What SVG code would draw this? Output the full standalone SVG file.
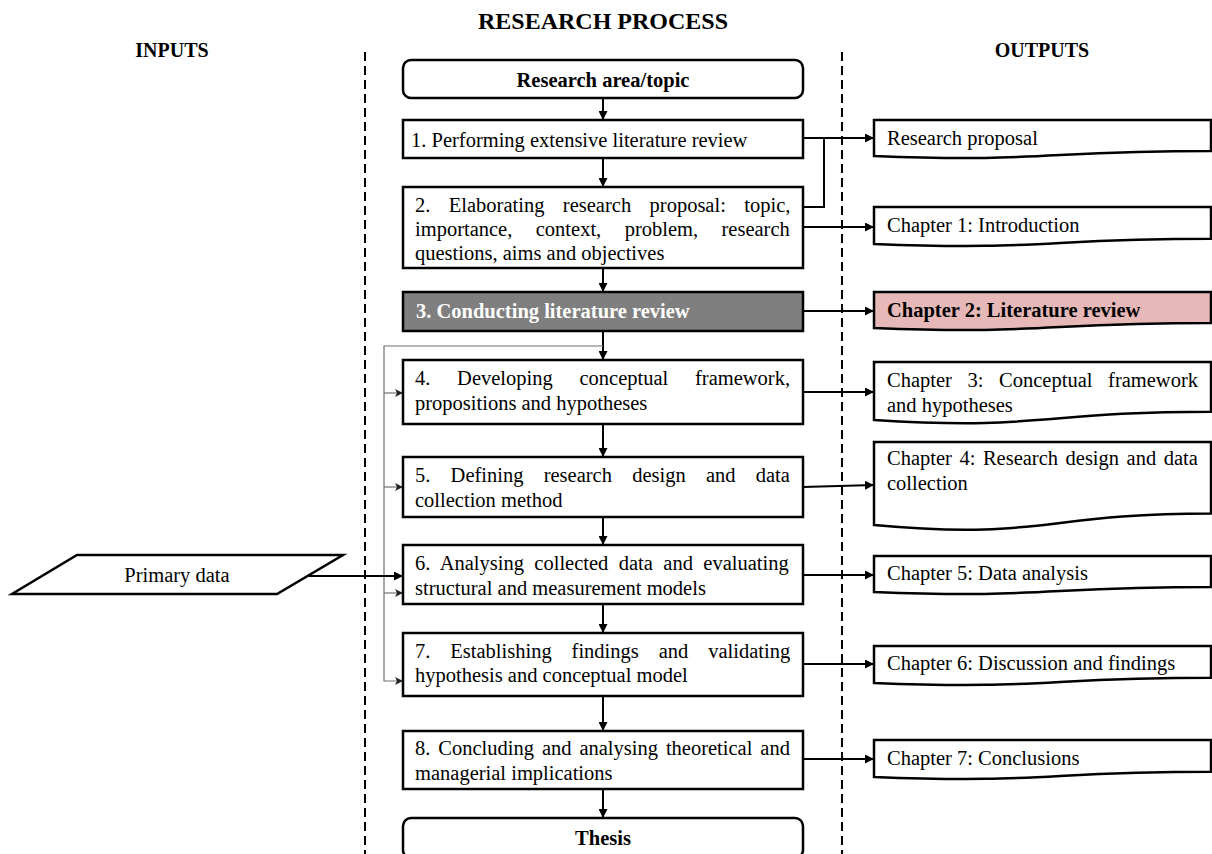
<svg xmlns="http://www.w3.org/2000/svg" width="1212" height="854" viewBox="0 0 1212 854">
  <style>
    text { font-family: "Liberation Serif", "Times New Roman", serif; fill: #000; }
    .hdr { font-size: 20px; font-weight: bold; text-anchor: middle; }
    .title { font-size: 24px; font-weight: bold; text-anchor: middle; }
    .t { font-size: 20.5px; }
    .b { font-size: 20.5px; font-weight: bold; }
    .box { fill: #fff; stroke: #000; stroke-width: 2.5; }
    .dark { fill: #7f7f7f; stroke: #000; stroke-width: 2.5; }
    .doc { fill: #fff; stroke: #000; stroke-width: 2.5; stroke-linejoin: miter; }
    .pink { fill: #e6b9b8; }
    .sep { stroke: #000; stroke-width: 2; stroke-dasharray: 9 5; fill: none; }
    .flow { stroke: #000; stroke-width: 2; fill: none; }
    .loop { stroke: #6f6f6f; stroke-width: 1.2; fill: none; }
  </style>
  <defs>
    <marker id="arrow" markerUnits="userSpaceOnUse" viewBox="0 0 10 10" refX="10" refY="5" markerWidth="9" markerHeight="9" orient="auto">
      <path d="M0,0 L10,5 L0,10 Z" fill="#000"/>
    </marker>
    <marker id="arrowThin" markerUnits="userSpaceOnUse" viewBox="0 0 10 10" refX="10" refY="5" markerWidth="8" markerHeight="8" orient="auto">
      <path d="M0,0 L10,5 L0,10 L2.5,5 Z" fill="#222"/>
    </marker>
  </defs>

  <!-- column headings and separators -->
  <g id="headings">
    <text class="title" x="603" y="29">RESEARCH PROCESS</text>
    <text class="hdr" x="172" y="57">INPUTS</text>
    <text class="hdr" x="1042" y="57">OUTPUTS</text>
    <line class="sep" x1="365" y1="52" x2="365" y2="854"/>
    <line class="sep" x1="842" y1="52" x2="842" y2="854"/>
  </g>

  <!-- connectors -->
  <g id="connectors">
    <!-- main vertical flow -->
    <line class="flow" x1="603" y1="98" x2="603" y2="120" marker-end="url(#arrow)"/>
    <line class="flow" x1="603" y1="158" x2="603" y2="187" marker-end="url(#arrow)"/>
    <line class="flow" x1="603" y1="268" x2="603" y2="292" marker-end="url(#arrow)"/>
    <line class="flow" x1="603" y1="331" x2="603" y2="360" marker-end="url(#arrow)"/>
    <line class="flow" x1="603" y1="424" x2="603" y2="457" marker-end="url(#arrow)"/>
    <line class="flow" x1="603" y1="517" x2="603" y2="545" marker-end="url(#arrow)"/>
    <line class="flow" x1="603" y1="604" x2="603" y2="633" marker-end="url(#arrow)"/>
    <line class="flow" x1="603" y1="696" x2="603" y2="731" marker-end="url(#arrow)"/>
    <line class="flow" x1="603" y1="789" x2="603" y2="818" marker-end="url(#arrow)"/>

    <!-- feedback loop from step 3 -->
    <polyline class="loop" points="603,346 384,346 384,681 403,681" marker-end="url(#arrowThin)"/>
    <line class="loop" x1="384" y1="393" x2="403" y2="393" marker-end="url(#arrowThin)"/>
    <line class="loop" x1="384" y1="487" x2="403" y2="487" marker-end="url(#arrowThin)"/>
    <line class="loop" x1="384" y1="593" x2="403" y2="593" marker-end="url(#arrowThin)"/>

    <!-- input -->
    <line class="flow" x1="309" y1="576" x2="403" y2="576" marker-end="url(#arrow)"/>

    <!-- outputs -->
    <line class="flow" x1="803" y1="138" x2="874" y2="138" marker-end="url(#arrow)"/>
    <polyline class="flow" points="803,207 824,207 824,138"/>
    <line class="flow" x1="803" y1="227" x2="874" y2="227" marker-end="url(#arrow)"/>
    <line class="flow" x1="803" y1="311" x2="874" y2="311" marker-end="url(#arrow)"/>
    <line class="flow" x1="803" y1="392" x2="874" y2="392" marker-end="url(#arrow)"/>
    <line class="flow" x1="803" y1="487" x2="874" y2="485" marker-end="url(#arrow)"/>
    <line class="flow" x1="803" y1="575" x2="874" y2="575" marker-end="url(#arrow)"/>
    <line class="flow" x1="803" y1="664" x2="874" y2="664" marker-end="url(#arrow)"/>
    <line class="flow" x1="803" y1="759" x2="874" y2="759" marker-end="url(#arrow)"/>
  </g>

  <!-- process steps (justified lines use word-spacing) -->
  <g id="start">
    <rect class="box" x="403" y="60" width="400" height="38" rx="8"/>
    <text class="b" x="603" y="87" text-anchor="middle">Research area/topic</text>
  </g>
  <g id="step1">
    <rect class="box" x="403" y="120" width="400" height="38"/>
    <text class="t" x="411" y="147">1. Performing extensive literature review</text>
  </g>
  <g id="step2">
    <rect class="box" x="403" y="187" width="400" height="81"/>
    <text class="t" x="415" y="212" word-spacing="13.3">2. Elaborating research proposal: topic,</text>
    <text class="t" x="415" y="236" word-spacing="18.3">importance, context, problem, research</text>
    <text class="t" x="415" y="260">questions, aims and objectives</text>
  </g>
  <g id="step3">
    <rect class="dark" x="403" y="292" width="400" height="39"/>
    <text class="b" x="416" y="318" style="fill:#fff">3. Conducting literature review</text>
  </g>
  <g id="step4">
    <rect class="box" x="403" y="360" width="400" height="64"/>
    <text class="t" x="415" y="385" word-spacing="21.6">4. Developing conceptual framework,</text>
    <text class="t" x="415" y="410">propositions and hypotheses</text>
  </g>
  <g id="step5">
    <rect class="box" x="403" y="457" width="400" height="60"/>
    <text class="t" x="415" y="482" word-spacing="15.1">5. Defining research design and data</text>
    <text class="t" x="415" y="507">collection method</text>
  </g>
  <g id="step6">
    <rect class="box" x="403" y="545" width="400" height="59"/>
    <text class="t" x="415" y="570" word-spacing="5.3">6. Analysing collected data and evaluating</text>
    <text class="t" x="415" y="595">structural and measurement models</text>
  </g>
  <g id="step7">
    <rect class="box" x="403" y="633" width="400" height="63"/>
    <text class="t" x="415" y="658" word-spacing="14.8">7. Establishing findings and validating</text>
    <text class="t" x="415" y="682">hypothesis and conceptual model</text>
  </g>
  <g id="step8">
    <rect class="box" x="403" y="731" width="400" height="58"/>
    <text class="t" x="415" y="755" word-spacing="2.8">8. Concluding and analysing theoretical and</text>
    <text class="t" x="415" y="780">managerial implications</text>
  </g>
  <g id="thesis">
    <rect class="box" x="403" y="818" width="400" height="40" rx="8"/>
    <text class="b" x="603" y="845" text-anchor="middle">Thesis</text>
  </g>

  <!-- input -->
  <g id="primary-data">
    <polygon class="box" points="77,555 343,555 277,594 12,594"/>
    <text class="t" x="177" y="582" text-anchor="middle">Primary data</text>
  </g>

  <!-- output documents -->
  <g id="out-proposal">
    <path class="doc" d="M874,120 H1211 V150.9 C1042.5,150.9 1042.5,162.6 874,156 Z"/>
    <text class="t" x="887" y="145">Research proposal</text>
  </g>
  <g id="out-ch1">
    <path class="doc" d="M874,207 H1211 V238.7 C1042.5,238.7 1042.5,250.7 874,243.9 Z"/>
    <text class="t" x="887" y="232">Chapter 1: Introduction</text>
  </g>
  <g id="out-ch2">
    <path class="doc pink" d="M874,292 H1211 V322.9 C1042.5,322.9 1042.5,334.6 874,328 Z"/>
    <text class="b" x="887" y="317">Chapter 2: Literature review</text>
  </g>
  <g id="out-ch3">
    <path class="doc" d="M874,362 H1211 V411.7 C1042.5,411.7 1042.5,430.6 874,419.9 Z"/>
    <text class="t" x="887" y="387" word-spacing="10.5">Chapter 3: Conceptual framework</text>
    <text class="t" x="887" y="412">and hypotheses</text>
  </g>
  <g id="out-ch4">
    <path class="doc" d="M874,442 H1211 V513.4 C1042.5,513.4 1042.5,540.5 874,525.1 Z"/>
    <text class="t" x="887" y="465" word-spacing="2.4">Chapter 4: Research design and data</text>
    <text class="t" x="887" y="490">collection</text>
  </g>
  <g id="out-ch5">
    <path class="doc" d="M874,556 H1211 V586.9 C1042.5,586.9 1042.5,598.6 874,592 Z"/>
    <text class="t" x="887" y="580">Chapter 5: Data analysis</text>
  </g>
  <g id="out-ch6">
    <path class="doc" d="M874,646 H1211 V677.7 C1042.5,677.7 1042.5,689.7 874,682.9 Z"/>
    <text class="t" x="887" y="670">Chapter 6: Discussion and findings</text>
  </g>
  <g id="out-ch7">
    <path class="doc" d="M874,740 H1211 V771.7 C1042.5,771.7 1042.5,783.7 874,776.9 Z"/>
    <text class="t" x="887" y="765">Chapter 7: Conclusions</text>
  </g>
</svg>
